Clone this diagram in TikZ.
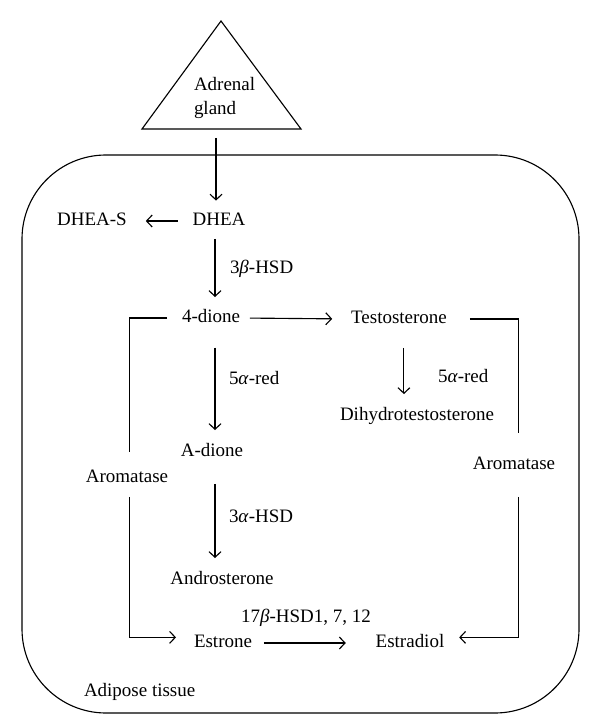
\documentclass[tikz,border=0pt]{standalone}
\usepackage{fontspec}
\setmainfont{Liberation Serif}
\usepackage{tikz}
\usetikzlibrary{positioning, arrows.meta}

\tikzset{
  chem/.style={inner sep=0pt, outer sep=0pt, text height=9.5pt, text depth=2.5pt, font=\fontsize{13.5}{16}\selectfont},
  enz/.style={chem, anchor=west},
  arr/.style={-{Straight Barb[length=4pt,width=8.5pt]}, line width=0.8pt},
  pipe/.style={line width=0.8pt}
}

\begin{document}
\begin{tikzpicture}[x=0.025cm, y=-0.025cm]
\useasboundingbox (0,0) rectangle (600,721);
\draw[pipe] (221,21) -- (142,129) -- (301,129) -- cycle;
\node[chem, anchor=west, align=left, text height=, text depth=, font=\fontsize{13.5}{17}\selectfont] (adrenal) at (194,98) {Adrenal\\gland};
\coordinate (glandbase) at (216,129);
\draw[pipe, rounded corners=2.1cm] (22,155) rectangle (579,713);
\coordinate (col) at (215,0);

\node[chem] (dhea) at (219,221) {DHEA};
\node[chem] (dheas) at (92,221) {DHEA-S};
\node[chem] (dione) at (211,318) {4-dione};
\node[chem] (testo) at (399,319) {Testosterone};
\node[chem] (dht) at (417,416) {Dihydrotestosterone};
\node[chem] (adione) at (212,452) {A-dione};
\node[chem] (andro) at (222,580) {Androsterone};
\node[chem] (estrone) at (223,643) {Estrone};
\node[chem] (estradiol) at (410,643) {Estradiol};
\node[chem] (aromL) at (127,478) {Aromatase};
\node[chem] (aromR) at (514,465) {Aromatase};
\node[chem] (tissue) at (84,692) [anchor=west] {Adipose tissue};

\node[enz] (hsd3b) at (230,269) {3\textit{β}-HSD};
\node[enz] (red5L) at (229,380) {5\textit{α}-red};
\node[enz] (red5R) at (438,378) {5\textit{α}-red};
\node[enz] (hsd3a) at (229,518) {3\textit{α}-HSD};
\node[chem] (hsd17) at (306,618) {17\textit{β}-HSD1, 7, 12};

\draw[arr, shorten <=6.4pt, shorten >=8.5pt] (glandbase) -- (glandbase |- dhea.north);
\draw[arr, shorten <=10.5pt, shorten >=13.5pt] (dhea.west) -- (dheas.east);
\draw[arr, shorten <=6.7pt, shorten >=8.9pt] (dhea.south -| col) -- (dione.north -| col);
\draw[arr, shorten <=15pt, shorten >=9.6pt] (dione.south -| col) -- (adione.north -| col);
\draw[arr, shorten <=16.7pt, shorten >=9.6pt] (adione.south -| col) -- (andro.north -| col);
\draw[arr, shorten <=7pt, shorten >=13.5pt] (dione.east) -- (testo.west);
\draw[arr, shorten <=14.5pt, shorten >=9.6pt] ([xshift=3.5pt]testo.south) -- ([xshift=3.5pt]testo.south |- dht.north);
\draw[pipe, shorten <=10.6pt, shorten >=12.4pt] (dione.west) -| ([xshift=2pt]aromL.north);
\draw[arr, shorten <=7.4pt, shorten >=12.8pt] ([xshift=2pt]aromL.south) |- ([yshift=4pt]estrone.west);
\draw[pipe, shorten <=16.3pt, shorten >=16.7pt] (testo.east) -| ([xshift=3.5pt]aromR.north);
\draw[arr, shorten <=16.7pt, shorten >=10.6pt] ([xshift=3.5pt]aromR.south) |- ([yshift=4pt]estradiol.east);
\draw[arr, shorten <=8.5pt, shorten >=21.3pt] (estrone.east) -- (estradiol.west);
\end{tikzpicture}
\end{document}
